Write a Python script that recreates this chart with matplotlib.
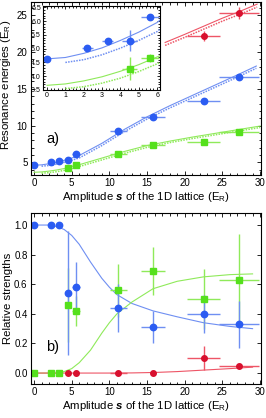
import numpy as np
import matplotlib.pyplot as plt
from matplotlib.ticker import MultipleLocator

plt.rcParams['font.family'] = ['Liberation Sans', 'DejaVu Sans']
plt.rcParams['mathtext.fontset'] = 'custom'
plt.rcParams['mathtext.rm'] = 'Liberation Sans'
plt.rcParams['mathtext.it'] = 'Liberation Sans:italic'
plt.rcParams['mathtext.bf'] = 'Liberation Sans:bold:italic'

# lattice amplitudes s (E_R)
s_all = [0, 2.2, 3.3, 4.5, 5.6, 11.2, 15.8, 22.5, 27.2]
s_xerr = [0, 0.3, 0.3, 0.4, 0.5, 1.1, 1.6, 2.2, 2.7]

# a) resonance energies
blue_s = [0, 2.2, 3.3, 4.5, 5.6, 11.2, 15.8, 22.5, 27.2]
blue_E = [4.63, 5.02, 5.27, 5.28, 6.15, 9.3, 11.2, 13.3, 16.6]
blue_Eerr = [0.05, 0.12, 0.08, 0.38, 0.1, 0.2, 0.25, 0.3, 0.3]
green_s = [4.5, 5.6, 11.2, 15.8, 22.5, 27.2]
green_E = [4.28, 4.65, 6.2, 7.4, 7.8, 9.2]
green_Eerr = [0.4, 0.15, 0.2, 0.2, 0.2, 0.2]
green_sxerr = [0.4, 0.5, 1.1, 1.6, 2.2, 2.7]
red_s = [22.5, 27.2]
red_E = [22.2, 25.3]
red_Eerr = [0.7, 0.8]
red_sxerr = [2.2, 2.7]

# theory curves
blue_th_s = [0, 1, 2, 3, 4, 5, 6, 9, 12, 15, 18, 21, 24, 27, 29.5]
blue_th_E = [4.63, 4.68, 4.83, 5.03, 5.3, 5.6, 5.95, 7.6, 9.5, 11.2, 12.7, 14.1, 15.5, 16.9, 18.1]
blue_dt_s = [1, 2, 3, 4, 5, 6, 9, 12, 15, 18, 21, 24, 27, 29.5]
blue_dt_E = [4.5, 4.6, 4.78, 5.02, 5.3, 5.62, 7.3, 9.2, 10.9, 12.4, 13.8, 15.2, 16.6, 17.8]
green_th_s = [0, 1, 2, 3, 4, 5, 6, 9, 12, 15, 18, 21, 24, 27, 30]
green_th_E = [3.67, 3.72, 3.83, 3.98, 4.18, 4.42, 4.7, 5.6, 6.5, 7.3, 7.9, 8.45, 8.95, 9.45, 9.95]
green_dt_s = [1, 2, 3, 4, 5, 6, 9, 12, 15, 18, 21, 24, 27, 30]
green_dt_E = [3.55, 3.62, 3.75, 3.93, 4.17, 4.45, 5.35, 6.25, 7.05, 7.7, 8.25, 8.75, 9.25, 9.75]
red_th_s = [17.4, 20, 22.5, 25, 27.5, 29.6]
red_th_E = [21.3, 22.4, 23.5, 24.6, 25.6, 26.5]
red_dt_s = [17.4, 20, 22.5, 25, 27.5, 29.6]
red_dt_E = [20.9, 22.0, 23.1, 24.2, 25.2, 26.1]

# b) relative strengths
blue_w = [1.0, 1.0, 1.0, 0.54, 0.58, 0.44, 0.31, 0.40, 0.33]
blue_werr = [0, 0, 0, 0.42, 0.17, 0.16, 0.11, 0.13, 0.16]
green_w = [0, 0, 0, 0.46, 0.42, 0.56, 0.69, 0.50, 0.63]
green_werr = [0, 0, 0, 0.25, 0.10, 0.18, 0.16, 0.20, 0.31]
red_bs = [4.5, 5.6, 11.2, 15.8, 22.5, 27.2]
red_w = [0, 0, 0, 0, 0.10, 0.05]
red_werr = [0, 0, 0, 0, 0.08, 0.01]
red_bxerr = [0, 0, 1.1, 0, 2.2, 2.7]

blue_fit_s = [0, 2, 3, 4, 5, 6, 7.5, 9, 10, 11, 13, 15.8, 19, 22.5, 26, 29]
blue_fit_w = [1.0, 1.0, 0.99, 0.97, 0.93, 0.87, 0.75, 0.64, 0.58, 0.53, 0.47, 0.42, 0.38, 0.34, 0.315, 0.30]
green_fit_s = [0, 3, 4, 5, 6, 7.5, 9, 10, 11, 13, 15.8, 19, 22.5, 26, 29]
green_fit_w = [0, 0, 0.01, 0.03, 0.07, 0.155, 0.27, 0.34, 0.40, 0.48, 0.57, 0.62, 0.65, 0.665, 0.67]
red_fit_s = [0, 5, 10, 13, 16, 19, 22.5, 26, 29]
red_fit_w = [0, 0, 0, 0.001, 0.004, 0.01, 0.02, 0.03, 0.04]

cb, cbl = '#2b5cf2', '#6f8ff2'
cg, cgl = '#55e01c', '#8fea5a'
cr, crl = '#d8102e', '#ee5566'

fig = plt.figure(figsize=(2.66, 4.18), dpi=100)
ax1 = fig.add_axes([0.1165, 0.5813, 0.865, 0.414])
ax2 = fig.add_axes([0.1165, 0.0813, 0.865, 0.409])
ins = fig.add_axes([0.1617, 0.7847, 0.44, 0.201])

def style(ax, fs=7):
    ax.tick_params(which='both', direction='in', top=True, right=True, labelsize=fs, width=0.6)
    ax.tick_params(which='major', length=3, pad=2.5)
    ax.tick_params(which='minor', length=1.8)
    for sp in ax.spines.values():
        sp.set_linewidth(0.8)

def theory(ax, xs, ys, xd, yd, c):
    ax.plot(xs, ys, color=c, lw=0.8)
    ax.plot(xd, yd, color=c, lw=1.1, ls=(0, (1, 0.8)))

for ax in (ax1, ins):
    theory(ax, blue_th_s, blue_th_E, blue_dt_s, blue_dt_E, cbl)
    theory(ax, green_th_s, green_th_E, green_dt_s, green_dt_E, cgl)
    theory(ax, red_th_s, red_th_E, red_dt_s, red_dt_E, crl)
    ax.errorbar(blue_s, blue_E, xerr=s_xerr, yerr=blue_Eerr, fmt='o', color=cb, ms=4.6,
                ecolor=cbl, elinewidth=1, capsize=0)
    ax.errorbar(green_s, green_E, xerr=green_sxerr, yerr=green_Eerr, fmt='s', color=cg, ms=4.6,
                ecolor=cgl, elinewidth=1, capsize=0)
    ax.errorbar(red_s, red_E, xerr=red_sxerr, yerr=red_Eerr, fmt='o', color=cr, ms=4,
                ecolor=crl, elinewidth=1, capsize=0)

xlab = 'Amplitude $\\mathbf{s}$ of the 1D lattice (E$_\\mathregular{R}$)'

ax1.set_xlim(-0.4, 30.13)
ax1.set_ylim(3.3, 26.8)
ax1.xaxis.set_major_locator(MultipleLocator(5))
ax1.xaxis.set_minor_locator(MultipleLocator(1))
ax1.yaxis.set_major_locator(MultipleLocator(5))
ax1.yaxis.set_minor_locator(MultipleLocator(1))
style(ax1)
ax1.set_ylabel('Resonance energies (E$_\\mathregular{R}$)', fontsize=8.2)
ax1.yaxis.set_label_coords(-0.08, 0.52)
ax1.set_xlabel(xlab, fontsize=8.2, labelpad=1)
ax1.text(1.6, 7.7, 'a)', fontsize=10.5)

ins.set_xlim(-0.22, 6.16)
ins.set_ylim(3.5, 6.55)
ins.xaxis.set_major_locator(MultipleLocator(1))
ins.xaxis.set_minor_locator(MultipleLocator(0.2))
ins.yaxis.set_major_locator(MultipleLocator(0.5))
ins.yaxis.set_minor_locator(MultipleLocator(0.1))
style(ins, fs=5)
ins.tick_params(which='major', length=2)
ins.tick_params(which='minor', length=1.2)
ins.tick_params(pad=1.5)

ax2.plot(blue_fit_s, blue_fit_w, color=cbl, lw=0.8)
ax2.plot(green_fit_s, green_fit_w, color=cgl, lw=0.8)
ax2.plot(red_fit_s, red_fit_w, color=crl, lw=0.8)
ax2.errorbar(s_all, green_w, xerr=s_xerr, yerr=green_werr, fmt='s', color=cg, ms=4.6,
             ecolor=cgl, elinewidth=1, capsize=0)
ax2.errorbar(s_all, blue_w, xerr=s_xerr, yerr=blue_werr, fmt='o', color=cb, ms=4.6,
             ecolor=cbl, elinewidth=1, capsize=0)
ax2.errorbar(red_bs, red_w, xerr=red_bxerr, yerr=red_werr, fmt='o', color=cr, ms=4,
             ecolor=crl, elinewidth=1, capsize=0)
ax2.set_xlim(-0.4, 30.13)
ax2.set_ylim(-0.074, 1.081)
ax2.xaxis.set_major_locator(MultipleLocator(5))
ax2.xaxis.set_minor_locator(MultipleLocator(1))
ax2.set_yticks([0, 0.2, 0.4, 0.6, 0.8, 1.0])
ax2.set_yticklabels(['0.0', '0.2', '0.4', '0.6', '0.8', '1.0'])
style(ax2)
ax2.set_ylabel('Relative strengths', fontsize=8.2)
ax2.yaxis.set_label_coords(-0.08, 0.5)
ax2.set_xlabel(xlab, fontsize=8.2, labelpad=1)
ax2.text(1.6, 0.15, 'b)', fontsize=10.5)

fig.savefig('out.png', dpi=100)
